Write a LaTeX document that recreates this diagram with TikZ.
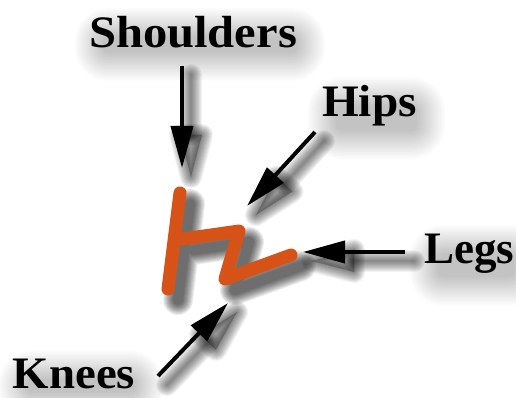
\documentclass[tikz,border=0pt]{standalone}
\usepackage{fontspec}
\setmainfont{Liberation Serif}
\usetikzlibrary{arrows.meta,calc}
\definecolor{figorange}{RGB}{214,82,22}
\pgfdeclarelayer{bgwhite}
\pgfdeclarelayer{bg}
\pgfsetlayers{bgwhite,bg,main}
\tikzset{
  lbl/.style={font=\bfseries\fontsize{45}{50}\selectfont, inner sep=0pt, anchor=base},
  arr/.style={line width=4pt, -{Triangle[length=42pt,width=22pt]}},
  figline/.style={line width=13pt, line cap=round, line join=round, draw=figorange},
  blurline/.style={draw=black, draw opacity=0.05, line join=round, line cap=round},
  blurhead/.style={draw=black, fill=black, draw opacity=0.05, fill opacity=0.025, line join=round},
  txtshd/.style={fill=black, opacity=0.011}
}
\begin{document}
\begin{tikzpicture}[x=1pt,y=-1pt]
\begin{pgfonlayer}{bgwhite}
\fill[white] (0,0) rectangle (516,398);
\end{pgfonlayer}
\useasboundingbox (0,0) rectangle (516,398);
% labels
\node[lbl] (shoulders) at (193,48) {\scalebox{1.08}[1]{Shoulders}};
\node[lbl] (hips) at (369.5,117) {\scalebox{1.05}[1]{Hips}};
\node[lbl] (legs) at (469,263) {Legs};
\node[lbl, text depth=0pt] (knees) at (74,388.5) {\scalebox{1.04}[1]{Knees}};
% figure points
\coordinate (f1) at (180,193);
\coordinate (f2) at (168,289);
\coordinate (f3) at (183,239);
\coordinate (f4) at (239,231);
\coordinate (f5) at (225,279);
\coordinate (f6) at (291,255);
% arrow ends
\coordinate (shT) at (182,66);  \coordinate (shH) at (182,168);
\coordinate (hiT) at (315,132); \coordinate (hiH) at (247,206);
\coordinate (leT) at (405,252); \coordinate (leH) at (303,252);
\coordinate (knT) at (158,376); \coordinate (knH) at (228,303);
\foreach \a in {sh,hi,le,kn}{
  \coordinate (\a B) at ($(\a H)!42pt!(\a T)$);
  \coordinate (\a C) at ($(\a B)!11pt!90:(\a H)$);
  \coordinate (\a D) at ($(\a B)!11pt!-90:(\a H)$);
}
% figure
\draw[figline] (f1) -- (f2) (f3) -- (f4) -- (f5) -- (f6);
% arrows
\draw[arr] (shT) -- (shH);
\draw[arr] (hiT) -- (hiH);
\draw[arr] (leT) -- (leH);
\draw[arr] (knT) -- (knH);
% soft shadows
\begin{pgfonlayer}{bg}
\foreach \n in {shoulders,hips,legs,knees}{
 \foreach \k in {0,...,19}{
  \fill[txtshd, rounded corners=6pt+1.5*\k pt] ([shift={(14-1.5*\k,20-1.5*\k)}]\n.north west) rectangle ([shift={(1.5*\k,4+1.5*\k)}]\n.south east);
 }}
\begin{scope}[transform canvas={shift={(9,9)}}]
\foreach \w in {2,4,...,22}{
  \foreach \a in {sh,hi,le,kn}{
    \draw[blurline, line width=\w pt] (\a T) -- (\a B);
    \filldraw[blurhead, line width=\w pt] (\a H) -- (\a C) -- (\a D) -- cycle;
  }
}
\end{scope}
\begin{scope}[transform canvas={shift={(10,11)}}]
\foreach \w in {2,4,...,22}{
  \draw[blurline, draw opacity=0.07, line width=\w pt+8pt] (f1) -- (f2) (f3) -- (f4) -- (f5) -- (f6);
}
\end{scope}
\end{pgfonlayer}
\end{tikzpicture}
\end{document}
